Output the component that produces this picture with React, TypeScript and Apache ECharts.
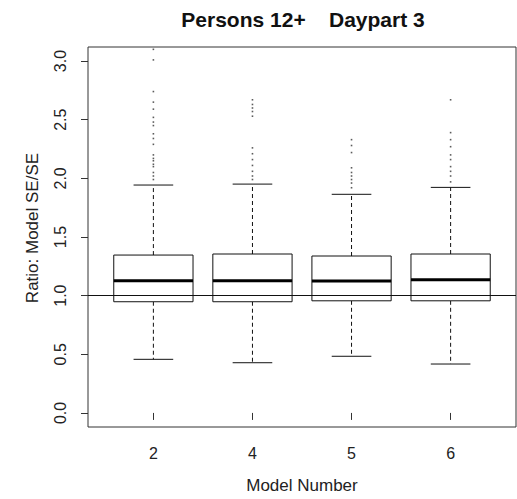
import React, { useEffect, useRef } from "react";
import * as echarts from "echarts";

// Model numbers shown along the x axis
const categories = ["2", "4", "5", "6"];

// Box statistics per model (ratio of model SE to SE)
const lowerWhisker = [0.457, 0.428, 0.483, 0.417];
const lowerQuartile = [0.948, 0.948, 0.956, 0.956];
const medians = [1.127, 1.127, 1.124, 1.136];
const upperQuartile = [1.346, 1.355, 1.338, 1.355];
const upperWhisker = [1.943, 1.951, 1.864, 1.923];

// Points beyond the whiskers
const outliersModel2 = [3.1, 3.01, 2.74, 2.65, 2.59, 2.52, 2.48, 2.45, 2.38, 2.34, 2.29, 2.2, 2.17, 2.15, 2.12, 2.1, 2.05, 2.02, 1.99];
const outliersModel4 = [2.67, 2.63, 2.6, 2.57, 2.53, 2.26, 2.21, 2.16, 2.11, 2.06, 2.02, 1.99];
const outliersModel5 = [2.33, 2.28, 2.22, 2.09, 2.05, 2.02, 1.99, 1.96, 1.92];
const outliersModel6 = [2.67, 2.39, 2.33, 2.27, 2.2, 2.16, 2.1, 2.06, 2.02, 1.97];

const yTicks = [0, 0.5, 1, 1.5, 2, 2.5, 3];
const referenceRatio = 1;

const TEXT = "#222";
const FONT = "Liberation Sans, Arial, sans-serif";

export default function App() {
  const ref = useRef<HTMLDivElement>(null);

  useEffect(() => {
    if (!ref.current) return;
    const chart = echarts.init(ref.current, undefined, { renderer: "svg" });

    const boxData = categories.map((_, i) => [
      i + 1,
      lowerWhisker[i],
      lowerQuartile[i],
      medians[i],
      upperQuartile[i],
      upperWhisker[i],
    ]);

    const outlierData: number[][] = [];
    [outliersModel2, outliersModel4, outliersModel5, outliersModel6].forEach((arr, i) => {
      arr.forEach((v) => outlierData.push([i + 1, v]));
    });

    const xPositions = categories.map((_, i) => i + 1);

    chart.setOption({
      animation: false,
      backgroundColor: "#fff",
      title: {
        text: "Persons 12+    Daypart 3",
        left: 298,
        textAlign: "center",
        top: 4,
        textStyle: { fontFamily: FONT, fontSize: 21, fontWeight: "bold", color: "#111" },
      },
      graphic: [
        {
          type: "text",
          x: 32,
          y: 228,
          rotation: Math.PI / 2,
          style: {
            text: "Ratio: Model SE/SE",
            fontFamily: FONT,
            fontSize: 17,
            fill: TEXT,
            textAlign: "center",
            textVerticalAlign: "middle",
          },
        },
      ],
      grid: {
        left: 88,
        right: 1,
        top: 47,
        bottom: 72,
        show: true,
        borderColor: "#333",
        borderWidth: 1,
        backgroundColor: "transparent",
      },
      xAxis: {
        type: "value",
        min: 0.34,
        max: 4.66,
        splitLine: { show: false },
        axisLine: { show: false },
        axisTick: {
          show: true,
          length: 7,
          customValues: xPositions,
          lineStyle: { color: "#333" },
        },
        axisLabel: {
          customValues: xPositions,
          formatter: (v: number) => categories[Math.round(v) - 1] ?? "",
          margin: 18,
          fontFamily: FONT,
          fontSize: 16,
          color: TEXT,
        },
        name: "Model Number",
        nameLocation: "middle",
        nameGap: 50,
        nameTextStyle: { fontFamily: FONT, fontSize: 17, color: TEXT },
      },
      yAxis: {
        type: "value",
        min: -0.12,
        max: 3.12,
        splitLine: { show: false },
        axisLine: { show: false },
        axisTick: {
          show: true,
          length: 7,
          customValues: yTicks,
          lineStyle: { color: "#333" },
        },
        axisLabel: {
          customValues: yTicks,
          formatter: (v: number) => v.toFixed(1),
          rotate: 90,
          margin: 20,
          fontFamily: FONT,
          fontSize: 16,
          color: TEXT,
        },
      },
      series: [
        {
          type: "custom",
          data: boxData,
          z: 2,
          renderItem: (_params: any, api: any) => {
            const x = api.value(0);
            const lo = api.coord([x, api.value(1)]);
            const b1 = api.coord([x, api.value(2)]);
            const md = api.coord([x, api.value(3)]);
            const b3 = api.coord([x, api.value(4)]);
            const hi = api.coord([x, api.value(5)]);
            const half = api.size([0.4, 0])[0];
            const cap = half / 2;
            const stroke = "#111";
            return {
              type: "group",
              children: [
                {
                  type: "line",
                  shape: { x1: lo[0], y1: b1[1], x2: lo[0], y2: lo[1] },
                  style: { stroke, lineWidth: 1, lineDash: [4, 3] },
                },
                {
                  type: "line",
                  shape: { x1: hi[0], y1: b3[1], x2: hi[0], y2: hi[1] },
                  style: { stroke, lineWidth: 1, lineDash: [4, 3] },
                },
                {
                  type: "line",
                  shape: { x1: lo[0] - cap, y1: lo[1], x2: lo[0] + cap, y2: lo[1] },
                  style: { stroke, lineWidth: 1 },
                },
                {
                  type: "line",
                  shape: { x1: hi[0] - cap, y1: hi[1], x2: hi[0] + cap, y2: hi[1] },
                  style: { stroke, lineWidth: 1 },
                },
                {
                  type: "rect",
                  shape: { x: b3[0] - half, y: b3[1], width: half * 2, height: b1[1] - b3[1] },
                  style: { fill: "#fff", stroke, lineWidth: 1 },
                },
                {
                  type: "line",
                  shape: { x1: md[0] - half, y1: md[1], x2: md[0] + half, y2: md[1] },
                  style: { stroke: "#000", lineWidth: 3 },
                },
              ],
            };
          },
        },
        {
          type: "scatter",
          data: outlierData,
          z: 3,
          symbol: "rect",
          symbolSize: 1.6,
          itemStyle: { color: "#333" },
          markLine: {
            silent: true,
            symbol: "none",
            label: { show: false },
            lineStyle: { color: "#111", width: 1, type: "solid" },
            data: [{ yAxis: referenceRatio }],
          },
        },
      ],
    });

    return () => chart.dispose();
  }, []);

  return (
    <div
      ref={ref}
      style={{ position: "fixed", left: 0, top: 0, width: 517, height: 499 }}
    />
  );
}
